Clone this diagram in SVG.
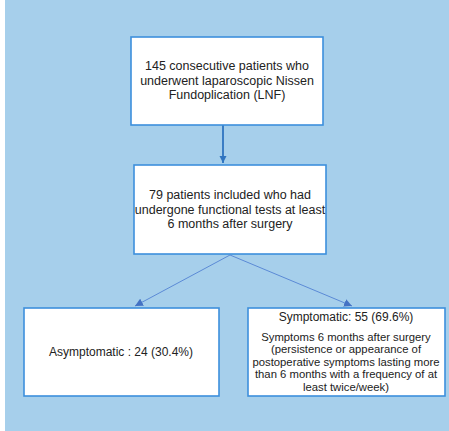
<svg xmlns="http://www.w3.org/2000/svg" width="449" height="431" viewBox="0 0 449 431">
<defs>
<style>
.box{fill:#ffffff;stroke:#3d8fdc;stroke-width:1.6}
.t{font-family:"Liberation Sans",Arial,sans-serif;font-size:12.5px;fill:#222;text-anchor:middle}
.m{font-family:"Liberation Sans",Arial,sans-serif;font-size:12px;fill:#222;text-anchor:middle}
.s{font-family:"Liberation Sans",Arial,sans-serif;font-size:11.3px;fill:#222;text-anchor:middle}
</style>
<marker id="ah" viewBox="0 0 10 10" refX="10" refY="5" markerWidth="4" markerHeight="4" orient="auto" markerUnits="strokeWidth"><path d="M0,0 L10,5 L0,10 z" fill="#2f74c0"/></marker>
<marker id="ah2" viewBox="0 0 10 10" refX="10" refY="5" markerWidth="8" markerHeight="8" orient="auto" markerUnits="strokeWidth"><path d="M0,0 L10,5 L0,10 z" fill="#4472c4"/></marker>
</defs>
<rect x="0" y="0" width="449" height="431" fill="#ffffff"/>
<rect x="5" y="0" width="444" height="431" fill="#a6cfeb"/>
<g id="connectors">
<line x1="223" y1="125" x2="223" y2="163" stroke="#2f74c0" stroke-width="1.8" marker-end="url(#ah)"/>
<line x1="230" y1="255" x2="135" y2="306" stroke="#5b8ad6" stroke-width="1" marker-end="url(#ah2)"/>
<line x1="230" y1="255" x2="352" y2="306" stroke="#5b8ad6" stroke-width="1" marker-end="url(#ah2)"/>
</g>
<g id="n1">
<rect class="box" x="131" y="37" width="192" height="88"/>
<text class="t" x="227" y="70">145 consecutive patients who</text>
<text class="t" x="227" y="85">underwent laparoscopic Nissen</text>
<text class="t" x="227" y="99">Fundoplication (LNF)</text>
</g>
<g id="n2">
<rect class="box" x="134" y="165" width="192" height="89"/>
<text class="t" x="230" y="199">79 patients included who had</text>
<text class="t" x="230" y="214">undergone functional tests at least</text>
<text class="t" x="230" y="228">6 months after surgery</text>
</g>
<g id="n3">
<rect class="box" x="24" y="308" width="195" height="88"/>
<text class="m" x="121" y="356">Asymptomatic : 24 (30.4%)</text>
</g>
<g id="n4">
<rect class="box" x="248" y="308" width="197" height="88"/>
<text class="m" x="346" y="321">Symptomatic: 55 (69.6%)</text>
<text class="s" x="346" y="341">Symptoms 6 months after surgery</text>
<text class="s" x="346" y="353">(persistence or appearance of</text>
<text class="s" x="346" y="366">postoperative symptoms lasting more</text>
<text class="s" x="346" y="378">than 6 months with a frequency of at</text>
<text class="s" x="346" y="391">least twice/week)</text>
</g>
</svg>
